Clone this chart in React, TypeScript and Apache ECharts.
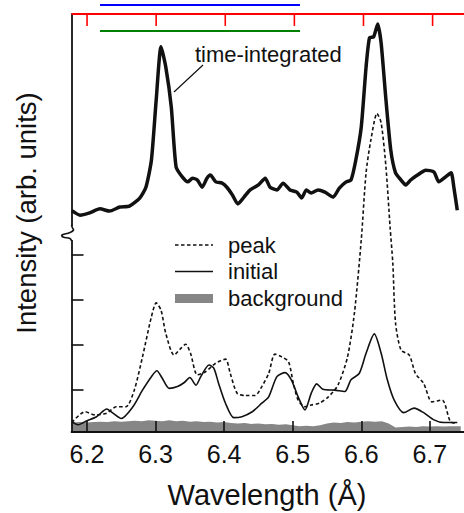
import React, { useEffect, useRef } from "react";
import * as echarts from "echarts";

const xTicks = [6.2, 6.3, 6.4, 6.5, 6.6, 6.7];
const yTicks = [1, 2, 3, 4];

const timeIntegrated: [number, number][] = [
  [6.178, 4.97], [6.19, 4.87], [6.204, 4.92], [6.219, 5.01], [6.233, 4.96], [6.248, 5.05],
  [6.262, 5.07], [6.277, 5.25], [6.286, 5.49], [6.294, 6.09], [6.301, 7.43], [6.308, 8.61],
  [6.315, 8.16], [6.323, 7.27], [6.33, 5.94], [6.339, 5.72], [6.347, 5.61], [6.354, 5.69],
  [6.361, 5.65], [6.368, 5.49], [6.375, 5.69], [6.38, 5.76], [6.388, 5.61], [6.397, 5.58],
  [6.404, 5.49], [6.412, 5.32], [6.42, 5.12], [6.429, 5.27], [6.438, 5.43], [6.45, 5.54],
  [6.46, 5.69], [6.467, 5.49], [6.477, 5.43], [6.486, 5.58], [6.496, 5.43], [6.506, 5.38],
  [6.513, 5.25], [6.52, 5.43], [6.527, 5.36], [6.537, 5.43], [6.547, 5.38], [6.559, 5.27],
  [6.568, 5.47], [6.578, 5.61], [6.585, 5.65], [6.592, 6.09], [6.6, 6.83], [6.607, 8.16],
  [6.612, 8.81], [6.618, 8.83], [6.624, 9.12], [6.629, 8.69], [6.636, 7.43], [6.643, 6.32],
  [6.65, 5.81], [6.658, 5.65], [6.665, 5.54], [6.672, 5.65], [6.682, 5.76], [6.694, 5.87],
  [6.706, 5.83], [6.713, 5.61], [6.723, 5.72], [6.731, 5.81], [6.735, 5.49], [6.74, 4.98],
];

const peak: [number, number][] = [
  [6.178, 0.26], [6.197, 0.5], [6.212, 0.43], [6.229, 0.47], [6.243, 0.61], [6.257, 0.61],
  [6.269, 0.98], [6.281, 1.72], [6.294, 2.61], [6.301, 2.92], [6.308, 2.76], [6.315, 2.24],
  [6.327, 1.76], [6.337, 1.91], [6.344, 2.0], [6.351, 1.8], [6.361, 1.32], [6.373, 1.39],
  [6.388, 1.58], [6.402, 1.67], [6.409, 1.35], [6.419, 0.91], [6.431, 0.86], [6.445, 0.86],
  [6.455, 1.06], [6.465, 1.35], [6.474, 1.78], [6.484, 1.72], [6.494, 1.61], [6.501, 1.13],
  [6.508, 0.76], [6.518, 0.61], [6.527, 0.65], [6.539, 0.69], [6.552, 0.83], [6.566, 1.09],
  [6.58, 1.72], [6.59, 2.69], [6.6, 4.32], [6.607, 5.81], [6.614, 6.54], [6.623, 7.13],
  [6.629, 6.92], [6.636, 5.94], [6.642, 4.61], [6.646, 3.8], [6.65, 2.47], [6.658, 1.87],
  [6.67, 1.76], [6.679, 1.35], [6.691, 1.13], [6.703, 0.72], [6.718, 0.76], [6.73, 0.28],
  [6.74, 0.24],
];

const initial: [number, number][] = [
  [6.178, 0.28], [6.187, 0.21], [6.2, 0.3], [6.214, 0.39], [6.229, 0.56], [6.238, 0.47],
  [6.25, 0.35], [6.267, 0.61], [6.281, 0.98], [6.294, 1.28], [6.302, 1.41], [6.31, 1.24],
  [6.32, 1.02], [6.332, 1.06], [6.342, 1.15], [6.35, 1.26], [6.359, 1.09], [6.366, 1.28],
  [6.378, 1.54], [6.385, 1.47], [6.392, 1.13], [6.402, 0.69], [6.414, 0.37], [6.426, 0.39],
  [6.441, 0.5], [6.455, 0.69], [6.465, 0.83], [6.477, 1.28], [6.489, 1.37], [6.498, 1.21],
  [6.508, 0.83], [6.518, 0.54], [6.527, 0.91], [6.535, 1.12], [6.544, 1.0], [6.561, 0.98],
  [6.576, 0.95], [6.585, 1.21], [6.597, 1.35], [6.607, 1.8], [6.619, 2.23], [6.629, 1.8],
  [6.638, 1.21], [6.648, 0.76], [6.662, 0.48], [6.677, 0.58], [6.691, 0.48], [6.706, 0.32],
  [6.72, 0.26], [6.74, 0.26],
];

const background: [number, number][] = [
  [6.178, 0.26], [6.19, 0.27], [6.2, 0.26], [6.21, 0.27], [6.22, 0.28], [6.23, 0.27],
  [6.24, 0.29], [6.25, 0.28], [6.26, 0.29], [6.27, 0.3], [6.28, 0.29], [6.29, 0.31],
  [6.3, 0.3], [6.31, 0.29], [6.32, 0.31], [6.33, 0.29], [6.34, 0.3], [6.35, 0.28],
  [6.36, 0.29], [6.37, 0.27], [6.38, 0.28], [6.39, 0.26], [6.4, 0.27], [6.41, 0.25],
  [6.42, 0.24], [6.43, 0.25], [6.44, 0.23], [6.45, 0.24], [6.46, 0.22], [6.47, 0.23],
  [6.48, 0.21], [6.49, 0.22], [6.5, 0.2], [6.51, 0.18], [6.52, 0.19], [6.53, 0.18],
  [6.54, 0.2], [6.55, 0.24], [6.56, 0.26], [6.57, 0.25], [6.58, 0.27], [6.59, 0.26],
  [6.6, 0.28], [6.61, 0.29], [6.62, 0.28], [6.63, 0.29], [6.64, 0.24], [6.65, 0.15],
  [6.66, 0.16], [6.67, 0.17], [6.68, 0.16], [6.69, 0.18], [6.7, 0.17], [6.71, 0.18],
  [6.72, 0.17], [6.73, 0.18], [6.745, 0.18],
];

const FONT = "'Liberation Sans', Arial, Helvetica, sans-serif";
const INK = "#111";

export default function App() {
  const ref = useRef<HTMLDivElement>(null);
  useEffect(() => {
    if (!ref.current) return;
    const chart = echarts.init(ref.current, null, { renderer: "svg" });
    const W = 464;
    const xMin = 6.1775;
    const xMax = 6.7498;
    const yMin = 0.05;
    const yMax = 9.34;
    const gLeft = 71.5;
    const gRight = -3;
    const gTop = 14;
    const gBottom = 81;
    const plotW = W - gLeft - gRight;
    const xPix = (v: number) => gLeft + ((v - xMin) / (xMax - xMin)) * plotW;

    const topFrame: any[] = [
      { type: "rect", z: 100, shape: { x: gLeft, y: gTop - 1, width: W - gLeft, height: 2 }, style: { fill: "red" } },
      { type: "rect", z: 100, shape: { x: 100, y: 4, width: 200, height: 2 }, style: { fill: "blue" } },
      { type: "rect", z: 100, shape: { x: 100, y: 30, width: 200, height: 2 }, style: { fill: "green" } },
      ...xTicks.map((v) => ({
        type: "rect",
        z: 100,
        shape: { x: xPix(v) - 0.8, y: gTop, width: 1.6, height: 12 },
        style: { fill: "red" },
      })),
    ];

    chart.setOption({
      animation: false,
      backgroundColor: "#fff",
      grid: { left: gLeft, right: gRight, top: gTop, bottom: gBottom },
      xAxis: {
        type: "value",
        min: xMin,
        max: xMax,
        position: "bottom",
        z: 10,
        splitLine: { show: false },
        axisLine: { show: true, onZero: false, lineStyle: { color: INK, width: 1.8 } },
        axisTick: { show: true, inside: true, length: 11, customValues: xTicks, lineStyle: { color: INK, width: 1.6 } },
        axisLabel: {
          show: true,
          customValues: xTicks,
          formatter: (v: number) => v.toFixed(1),
          fontSize: 25,
          fontFamily: FONT,
          color: INK,
          margin: 9,
        },
      },
      yAxis: {
        type: "value",
        min: yMin,
        max: yMax,
        z: 10,
        splitLine: { show: false },
        axisLine: { show: true, onZero: false, lineStyle: { color: INK, width: 1.8 } },
        axisTick: { show: true, inside: true, length: 12, customValues: yTicks, lineStyle: { color: INK, width: 1.6 } },
        axisLabel: { show: false },
      },
      series: [
        {
          name: "background",
          type: "line",
          data: background,
          symbol: "none",
          lineStyle: { width: 0 },
          areaStyle: { color: "#868686", opacity: 1, origin: "start" },
          z: 1,
        },
        {
          name: "peak",
          type: "line",
          data: peak,
          symbol: "none",
          smooth: 0.25,
          lineStyle: { color: INK, width: 1.6, type: [3.5, 2.5] },
          z: 3,
        },
        {
          name: "initial",
          type: "line",
          data: initial,
          symbol: "none",
          smooth: 0.25,
          lineStyle: { color: INK, width: 1.6 },
          z: 4,
        },
        {
          name: "time-integrated",
          type: "line",
          data: timeIntegrated,
          symbol: "none",
          smooth: 0.2,
          lineStyle: { color: INK, width: 3.5 },
          z: 5,
        },
      ],
      graphic: [
        ...topFrame,
        { type: "rect", z: 100, shape: { x: 69, y: 226, width: 6, height: 14 }, style: { fill: "#fff" } },
        {
          type: "polyline",
          z: 101,
          shape: {
            points: [[71.5, 225], [72.5, 228], [73.5, 230], [70, 232.5], [62, 235], [63, 237], [70, 238.5], [71.5, 241]],
            smooth: 0.5,
          },
          style: { stroke: INK, lineWidth: 1.6, fill: "none" },
        },
        {
          type: "text",
          z: 100,
          x: 195,
          y: 54,
          style: { text: "time-integrated", font: `22px ${FONT}`, fill: INK, textVerticalAlign: "middle", textAlign: "left" },
        },
        { type: "line", z: 100, shape: { x1: 174, y1: 92, x2: 203, y2: 65 }, style: { stroke: INK, lineWidth: 1.2 } },
        { type: "line", z: 100, shape: { x1: 175, y1: 245, x2: 213, y2: 245 }, style: { stroke: INK, lineWidth: 1.6, lineDash: [3.5, 2.5] } },
        { type: "text", z: 100, x: 228, y: 245, style: { text: "peak", font: `22px ${FONT}`, fill: INK, textVerticalAlign: "middle" } },
        { type: "line", z: 100, shape: { x1: 175, y1: 271.5, x2: 213, y2: 271.5 }, style: { stroke: INK, lineWidth: 1.6 } },
        { type: "text", z: 100, x: 228, y: 271.5, style: { text: "initial", font: `22px ${FONT}`, fill: INK, textVerticalAlign: "middle" } },
        { type: "rect", z: 100, shape: { x: 175, y: 294, width: 38, height: 9 }, style: { fill: "#868686" } },
        { type: "text", z: 100, x: 228, y: 298, style: { text: "background", font: `22px ${FONT}`, fill: INK, textVerticalAlign: "middle" } },
        {
          type: "text",
          z: 100,
          x: 267,
          y: 495,
          style: { text: "Wavelength (Å)", font: `29px ${FONT}`, fill: INK, textAlign: "center", textVerticalAlign: "middle" },
        },
        {
          type: "text",
          z: 100,
          x: 26,
          y: 213,
          rotation: Math.PI / 2,
          style: { text: "Intensity (arb. units)", font: `27.5px ${FONT}`, fill: INK, textAlign: "center", textVerticalAlign: "middle" },
        },
      ],
    });
    return () => chart.dispose();
  }, []);
  return <div ref={ref} style={{ position: "fixed", left: 0, top: 0, width: 464, height: 513, overflow: "hidden" }} />;
}
